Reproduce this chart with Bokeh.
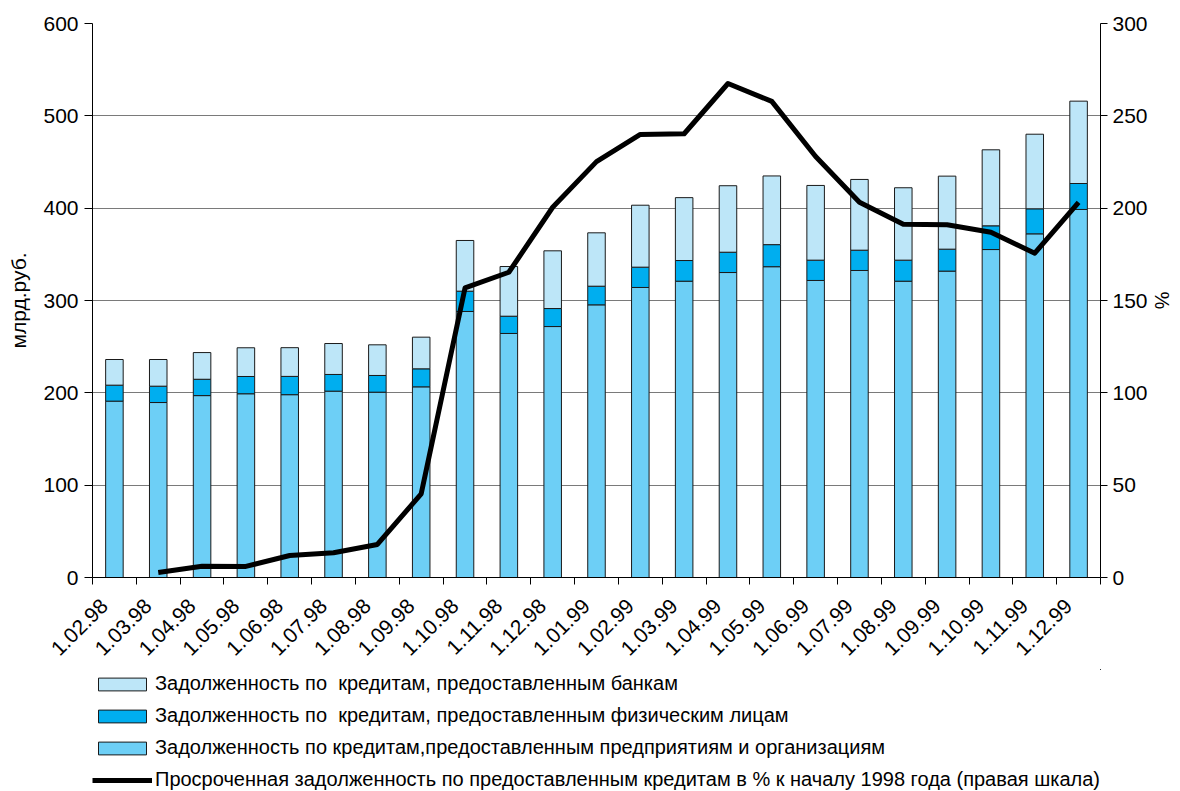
import math
from bokeh.plotting import figure
from bokeh.layouts import column
from bokeh.models import (Range1d, LinearAxis, FixedTicker, Legend, LegendItem,
                          ColumnDataSource)
from bokeh.embed import file_html
from bokeh.resources import INLINE

# ---- data -------------------------------------------------------------
dates = ["1.02.98", "1.03.98", "1.04.98", "1.05.98", "1.06.98", "1.07.98",
         "1.08.98", "1.09.98", "1.10.98", "1.11.98", "1.12.98", "1.01.99",
         "1.02.99", "1.03.99", "1.04.99", "1.05.99", "1.06.99", "1.07.99",
         "1.08.99", "1.09.99", "1.10.99", "1.11.99", "1.12.99"]

# млрд. руб.
enterprises = [191.0, 189.5, 197.0, 199.0, 198.0, 201.8, 200.7, 206.5, 288.1,
               264.3, 271.8, 295.3, 314.1, 320.9, 330.3, 336.6, 321.7, 332.5,
               320.9, 331.8, 355.2, 372.2, 398.6]
individuals = [17.3, 17.7, 17.7, 18.7, 19.8, 18.1, 18.1, 19.5, 22.0, 18.7,
               19.5, 20.2, 22.0, 22.4, 22.0, 23.9, 22.0, 22.0, 22.8, 23.8,
               25.7, 27.1, 28.1]
banks = [27.8, 28.9, 28.9, 31.1, 31.1, 33.5, 33.2, 34.3, 54.9, 53.8, 62.5,
         57.8, 67.1, 68.1, 72.0, 74.4, 80.9, 76.6, 78.4, 79.1, 82.3, 80.8, 89.2]

# % к началу 1998 года (правая шкала)
overdue_pct = [None, 2.7, 6.1, 6.0, 11.9, 13.4, 17.9, 45.3, 156.8, 165.3,
               200.5, 225.2, 239.9, 240.3, 267.5, 257.8, 228.0, 203.2, 191.3,
               191.0, 187.0, 175.6, 203.2]

legend_labels = [
    "Задолженность по  кредитам, предоставленным банкам",
    "Задолженность по  кредитам, предоставленным физическим лицам",
    "Задолженность по кредитам,предоставленным предприятиям и организациям",
    "Просроченная задолженность по предоставленным кредитам в % к началу 1998 года (правая шкала)",
]
y_left_label = "млрд.руб."
y_right_label = "%"

# ---- styling ----------------------------------------------------------
FONT = "Liberation Sans"
C_ENT = "#6dcff6"
C_IND = "#00aeef"
C_BANK = "#bde6f8"
BAR_LINE = "#1a1a1a"
W = 1175

n = len(dates)
xs = [i + 0.5 for i in range(n)]
src = ColumnDataSource(dict(x=xs, ent=enterprises, ind=individuals, bank=banks))

lx = [xs[i] for i in range(n) if overdue_pct[i] is not None]
ly = [v for v in overdue_pct if v is not None]
lsrc = ColumnDataSource(dict(x=lx, y=ly))

p = figure(width=W, height=669, output_backend="svg", toolbar_location=None,
           x_range=Range1d(0, n), y_range=Range1d(0, 600),
           min_border_left=92, min_border_top=23, min_border_right=70,
           min_border_bottom=92)
p.extra_y_ranges = {"pct": Range1d(0, 300)}
p.outline_line_color = None
p.background_fill_color = "white"
p.border_fill_color = "white"

bars = p.vbar_stack(["ent", "ind", "bank"], x="x", width=0.4, source=src,
                    fill_color=[C_ENT, C_IND, C_BANK],
                    line_color=BAR_LINE, line_width=1)
line = p.line("x", "y", source=lsrc, y_range_name="pct", line_color="black",
              line_width=5, line_join="round")

# grid
p.xgrid.visible = False
p.ygrid.grid_line_color = "#7a7a7a"
p.ygrid.grid_line_width = 1

# left axis
ya = p.yaxis[0]
ya.ticker = FixedTicker(ticks=[0, 100, 200, 300, 400, 500, 600])
ya.major_tick_in = 0
ya.major_tick_out = 8
ya.minor_tick_line_color = None
ya.axis_line_color = "black"
ya.major_tick_line_color = "black"
ya.major_label_text_font = FONT
ya.major_label_text_font_size = "21px"
ya.major_label_text_color = "black"
ya.major_label_standoff = 6
ya.axis_label = y_left_label
ya.axis_label_text_font = FONT
ya.axis_label_text_font_size = "21px"
ya.axis_label_text_font_style = "normal"
ya.axis_label_text_color = "black"
ya.axis_label_standoff = 10

# right axis
ra = LinearAxis(y_range_name="pct", ticker=FixedTicker(ticks=[0, 50, 100, 150, 200, 250, 300]))
ra.major_tick_in = 0
ra.major_tick_out = 7
ra.minor_tick_line_color = None
ra.axis_line_color = "black"
ra.major_tick_line_color = "black"
ra.major_label_text_font = FONT
ra.major_label_text_font_size = "21px"
ra.major_label_text_color = "black"
ra.major_label_standoff = 5
ra.axis_label = y_right_label
ra.axis_label_text_font = FONT
ra.axis_label_text_font_size = "20px"
ra.axis_label_text_font_style = "normal"
ra.axis_label_text_color = "black"
ra.axis_label_standoff = 0
p.add_layout(ra, "right")

# bottom axis: labels near centers, ticks at category boundaries
label_pos = [x - 0.23 for x in xs]
xa = p.xaxis[0]
xa.ticker = FixedTicker(ticks=label_pos, minor_ticks=list(range(n + 1)))
xa.major_label_overrides = {xv: d for xv, d in zip(label_pos, dates)}
xa.major_tick_out = 0
xa.major_tick_in = 0
xa.minor_tick_out = 7
xa.minor_tick_in = 0
xa.minor_tick_line_color = "black"
xa.axis_line_color = "black"
xa.major_label_orientation = math.pi / 4
xa.major_label_text_font = FONT
xa.major_label_text_font_size = "21px"
xa.major_label_text_color = "black"
xa.major_label_standoff = 18

# ---- legend strip below the chart ---------------------------------------
# same series on ranges far away from the data; only the legend is visible
lf = figure(width=W, height=122, output_backend="svg", toolbar_location=None,
            x_range=Range1d(-1000, -999), y_range=Range1d(-1000, -999),
            x_axis_location=None, y_axis_location=None, min_border=0)
lf.outline_line_color = None
lf.xgrid.visible = False
lf.ygrid.visible = False
kbars = lf.vbar_stack(["ent", "ind", "bank"], x="x", width=0.4, source=src,
                      fill_color=[C_ENT, C_IND, C_BANK],
                      line_color=BAR_LINE, line_width=1)
kline = lf.line("x", "y", source=lsrc, line_color="black", line_width=5)

legend = Legend(items=[
    LegendItem(label=legend_labels[0], renderers=[kbars[2]]),
    LegendItem(label=legend_labels[1], renderers=[kbars[1]]),
    LegendItem(label=legend_labels[2], renderers=[kbars[0]]),
    LegendItem(label=legend_labels[3], renderers=[kline]),
], location=(0, 0), orientation="vertical",
    glyph_width=60, glyph_height=16, label_standoff=3, spacing=9,
    padding=0, margin=0, label_height=23,
    label_text_font=FONT, label_text_font_size="20px", label_text_color="black",
    border_line_alpha=0, background_fill_alpha=0)
lf.add_layout(legend)

page = column(p, lf, spacing=0)
open("out.html", "w").write(file_html(page, INLINE))
